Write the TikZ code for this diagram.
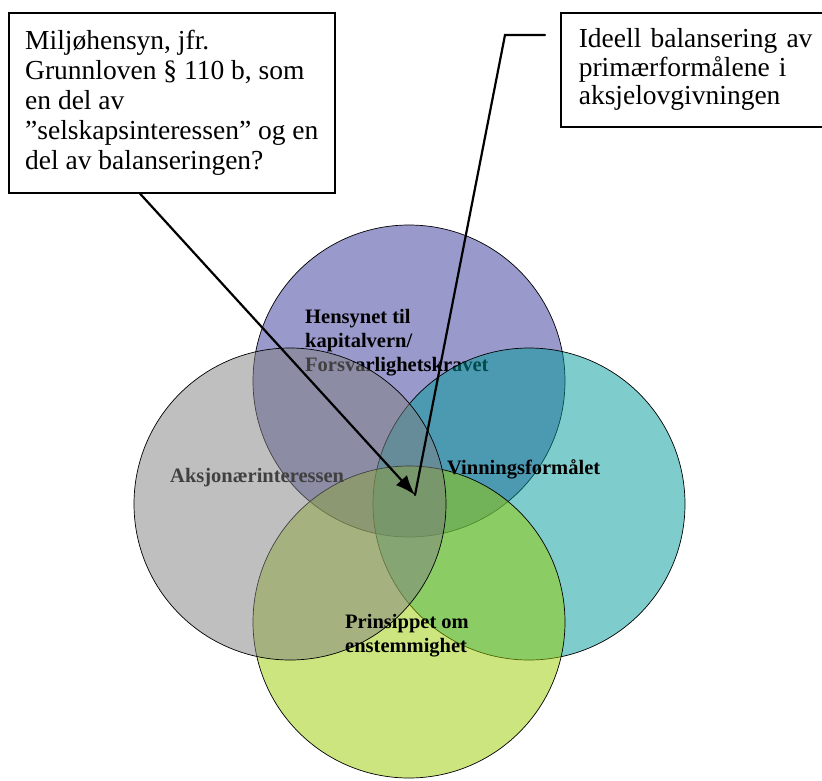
\documentclass[tikz,border=0pt]{standalone}
\usepackage{fontspec}
\setmainfont{Liberation Serif}
\usetikzlibrary{arrows.meta}

\definecolor{kapitalfarge}{RGB}{51,51,153}
\definecolor{aksjonaerfarge}{RGB}{128,128,128}
\definecolor{vinningfarge}{RGB}{0,153,153}
\definecolor{enstemmigfarge}{RGB}{153,204,0}

\begin{document}
\begin{tikzpicture}
	[x=1pt,y=-1pt,line cap=round,
	%Styles
	textbox/.style={draw,line width=1.6pt,rectangle,anchor=north west,align=left,inner ysep=0pt,font=\fontsize{27.5}{30}\selectfont},
	ring/.style={circle,draw=black,line width=0.7pt,fill=#1,fill opacity=0.5,minimum size=312pt,inner sep=0pt},
	venn text/.style={anchor=north west,align=left,inner sep=0pt,font=\fontsize{20.5}{24}\selectfont\bfseries},
	pointer/.style={line width=2.2pt,-{Latex[length=20pt,width=15pt]}},
	leader/.style={line width=2.2pt}
	]
	\useasboundingbox (0,0) rectangle (822,780);
	
	%The circles, each with its text
	\node[ring=kapitalfarge] (kapital) at (409,381) {};
	\node[venn text] (kapitaltekst) at (305,309) {Hensynet til\\kapitalvern/\\Forsvarlighetskravet};
	\node[ring=vinningfarge] (vinning) at (529,504) {};
	\node[ring=enstemmigfarge] (enstemmig) at (409,622) {};
	\node[venn text,anchor=base west] (aksjonaertekst) at (170,482) {Aksjonærinteressen};
	\node[ring=aksjonaerfarge] (aksjonaer) at (290,504) {};
	\node[venn text,anchor=base west] (vinningtekst) at (447,474) {Vinningsformålet};
	\node[venn text] (enstemmigtekst) at (345,614) {Prinsippet om\\enstemmighet};
	
	%The text boxes
	\node[textbox,minimum width=326pt,minimum height=180pt] (miljo) at (8,12)
		{Miljøhensyn, jfr.\\Grunnloven § 110 b, som\\en del av\\”selskapsinteressen” og en\\del av balanseringen?};
	\node[textbox,text width=245pt,inner xsep=18pt,minimum height=114pt,font=\fontsize{27.5}{28.5}\selectfont] (ideell) at (560,12)
		{Ideell balansering av\\primærformålene i\\aksjelovgivningen};
	
	%Connectors
	\coordinate (treff) at (415,495);
	\coordinate (miljofot) at ([xshift=132pt]miljo.south west);
	\coordinate (ideellstart) at (545,35);
	\coordinate (ideellknekk) at (505,35);
	\draw[pointer] (miljofot) -- (treff);
	\draw[leader] (ideellstart) -- (ideellknekk) -- (treff);
\end{tikzpicture}
\end{document}
